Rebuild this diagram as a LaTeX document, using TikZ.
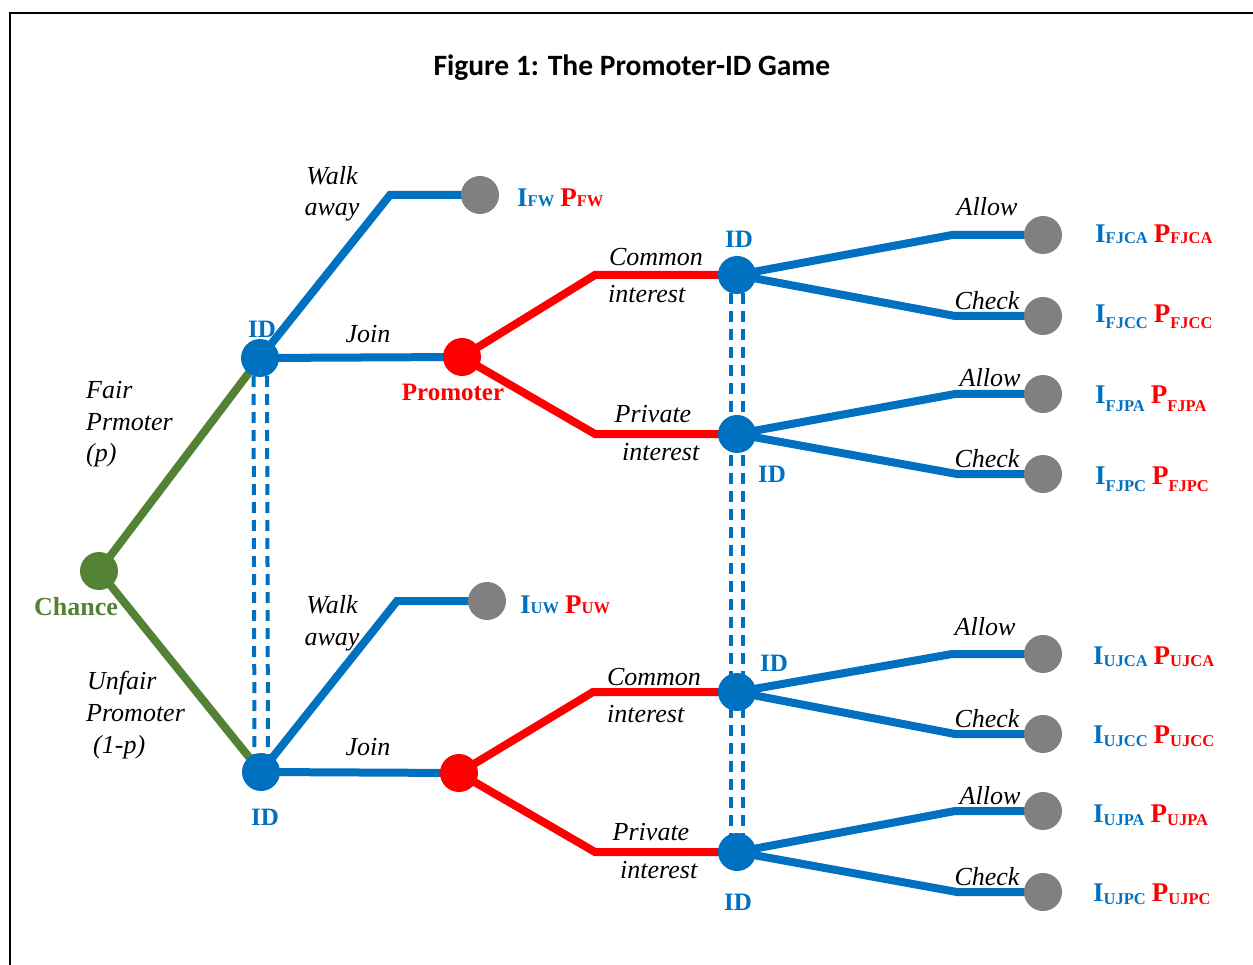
\documentclass[tikz,border=0pt]{standalone}
\usepackage{fontspec}
\setmainfont{Liberation Serif}
\newfontfamily\titlefont{Carlito}
\usetikzlibrary{backgrounds}
\definecolor{idblue}{RGB}{0,112,192}
\definecolor{pred}{RGB}{255,0,0}
\definecolor{cgreen}{RGB}{84,130,53}
\definecolor{tgray}{RGB}{128,128,128}
\newcommand{\pyf}[2]{{\bfseries\color{idblue}\fontsize{27}{27}\selectfont I\raisebox{-#2pt}{\fontsize{16.5}{16.5}\selectfont #1}}\hspace{6pt}{\bfseries\color{pred}\fontsize{27}{27}\selectfont P\raisebox{-#2pt}{\fontsize{16.5}{16.5}\selectfont #1}}}
\begin{document}
\begin{tikzpicture}[x=1pt,y=-1pt,
  dot/.style={circle,inner sep=0pt,minimum size=38pt},
  iddot/.style={dot,fill=idblue},
  prdot/.style={dot,fill=pred},
  chdot/.style={dot,fill=cgreen},
  enddot/.style={dot,fill=tgray},
  bbr/.style={line width=8pt,draw=idblue},
  rbr/.style={line width=8pt,draw=pred},
  gbr/.style={line width=8pt,draw=cgreen},
  infoset/.style={line width=4pt,draw=idblue,dash pattern=on 11pt off 7pt},
  act/.style={font=\itshape\fontsize{26}{26}\selectfont,inner sep=0pt,anchor=base},
  actw/.style={act,anchor=base west},
  idlab/.style={font=\bfseries\fontsize{25}{25}\selectfont,text=idblue,inner sep=0pt,anchor=base},
  pay/.style={inner sep=0pt,anchor=base west}
]
\useasboundingbox (0,0) rectangle (1253,965);
\draw[line width=2pt] (10,1000) -- (10,13) -- (1300,13);
\node[font=\titlefont\bfseries\fontsize{29.5}{29.5}\selectfont,inner sep=0pt,anchor=base] (title) at (632,76) {Figure 1: The Promoter-ID Game};

% decision nodes
\node[chdot] (C) at (99,571) {};
\node[iddot] (IDa) at (260,358) {};
\node[iddot] (IDb) at (261,772) {};
\node[prdot] (Pa) at (462,357) {};
\node[prdot] (Pb) at (459,773) {};
\node[iddot] (Ica) at (737,275) {};
\node[iddot] (Ipa) at (737,434) {};
\node[iddot] (Icb) at (737,692) {};
\node[iddot] (Ipb) at (737,852) {};
% terminal nodes
\node[enddot] (Tfw) at (480,195) {};
\node[enddot] (Tuw) at (487,601) {};
\node[enddot] (T1) at (1043,235) {};
\node[enddot] (T2) at (1043,316) {};
\node[enddot] (T3) at (1043,394) {};
\node[enddot] (T4) at (1043,474) {};
\node[enddot] (T5) at (1043,654) {};
\node[enddot] (T6) at (1043,734) {};
\node[enddot] (T7) at (1043,811) {};
\node[enddot] (T8) at (1043,892) {};
% bend points
\coordinate (wa) at (390,195);
\coordinate (wb) at (397,601);
\coordinate (ca) at (595,275);
\coordinate (pa) at (595,434);
\coordinate (cb) at (593,692);
\coordinate (pb) at (595,852);
\coordinate (a1) at (952,235);
\coordinate (c1) at (955,316);
\coordinate (a2) at (955,394);
\coordinate (c2) at (957,474);
\coordinate (a3) at (952,654);
\coordinate (c3) at (955,734);
\coordinate (a4) at (955,811);
\coordinate (c4) at (957,892);

\begin{scope}[on background layer]
\draw[gbr] (C.center) -- (IDa.center);
\draw[gbr] (C.center) -- (IDb.center);
\draw[infoset] ([xshift=-6.5pt]IDa.center) -- ([xshift=-6.5pt]IDb.center);
\draw[infoset] ([xshift=7pt]IDa.center) -- ([xshift=7pt]IDb.center);
\draw[infoset] ([xshift=-6pt]Ica.center) -- ([xshift=-6pt]Ipb.center);
\draw[infoset] ([xshift=6pt]Ica.center) -- ([xshift=6pt]Ipb.center);
\draw[bbr] (IDa.center) -- (wa) -- (Tfw.center);
\draw[bbr] (IDa.center) -- (Pa.center);
\draw[bbr] (IDb.center) -- (wb) -- (Tuw.center);
\draw[bbr] (IDb.center) -- (Pb.center);
\draw[rbr] (Pa.center) -- (ca) -- (Ica.center);
\draw[rbr] (Pa.center) -- (pa) -- (Ipa.center);
\draw[rbr] (Pb.center) -- (cb) -- (Icb.center);
\draw[rbr] (Pb.center) -- (pb) -- (Ipb.center);
\draw[bbr] (Ica.center) -- (a1) -- (T1.center);
\draw[bbr] (Ica.center) -- (c1) -- (T2.center);
\draw[bbr] (Ipa.center) -- (a2) -- (T3.center);
\draw[bbr] (Ipa.center) -- (c2) -- (T4.center);
\draw[bbr] (Icb.center) -- (a3) -- (T5.center);
\draw[bbr] (Icb.center) -- (c3) -- (T6.center);
\draw[bbr] (Ipb.center) -- (a4) -- (T7.center);
\draw[bbr] (Ipb.center) -- (c4) -- (T8.center);
\end{scope}

% player labels
\node[font=\bfseries\fontsize{26}{26}\selectfont,text=cgreen,inner sep=0pt,anchor=base] (lC) at (76,615) {Chance};
\node[font=\bfseries\fontsize{25}{25}\selectfont,text=pred,inner sep=0pt,anchor=base] (lPa) at (453,401) {Promoter};
\node[idlab] (lIDa) at (262,338) {ID};
\node[idlab] (lIDb) at (265,825) {ID};
\node[idlab] (lIca) at (739,248) {ID};
\node[idlab] (lIpa) at (772,482) {ID};
\node[idlab] (lIcb) at (774,671) {ID};
\node[idlab] (lIpb) at (738,910) {ID};

% action labels
\node[actw] (lf1) at (86,399) {Fair};
\node[actw] (lf2) at (86,431) {Prmoter};
\node[actw] (lf3) at (86,461) {(p)};
\node[actw] (lu1) at (87,689) {Unfair};
\node[actw] (lu2) at (86,721) {Promoter};
\node[actw] (lu3) at (93,753) {(1-p)};
\node[act] (lwa1) at (332,185) {Walk};
\node[act] (lwa2) at (332,216) {away};
\node[act] (lja) at (368,343) {Join};
\node[act] (lwb1) at (332,613) {Walk};
\node[act] (lwb2) at (332,645) {away};
\node[act] (ljb) at (368,755) {Join};
\node[act] (lca1) at (656,266) {Common};
\node[actw] (lca2) at (608,303) {interest};
\node[act] (lpa1) at (653,422) {Private};
\node[actw] (lpa2) at (622,460) {interest};
\node[act] (lcb1) at (654,685) {Common};
\node[actw] (lcb2) at (607,722) {interest};
\node[act] (lpb1) at (651,840) {Private};
\node[actw] (lpb2) at (620,878) {interest};
\node[act] (lA1) at (987,216) {Allow};
\node[act] (lC1) at (987,310) {Check};
\node[act] (lA2) at (990,387) {Allow};
\node[act] (lC2) at (987,467) {Check};
\node[act] (lA3) at (985,635) {Allow};
\node[act] (lC3) at (987,727) {Check};
\node[act] (lA4) at (990,804) {Allow};
\node[act] (lC4) at (987,885) {Check};

% payoffs
\node[pay] (pfw) at (517,207) {\pyf{FW}{0}};
\node[pay] (puw) at (520,613) {\pyf{UW}{0}};
\node[pay] (p1) at (1095,243) {\pyf{FJCA}{1}};
\node[pay] (p2) at (1095,323) {\pyf{FJCC}{6}};
\node[pay] (p3) at (1095,403) {\pyf{FJPA}{8}};
\node[pay] (p4) at (1095,484) {\pyf{FJPC}{7}};
\node[pay] (p5) at (1093,664) {\pyf{UJCA}{2}};
\node[pay] (p6) at (1093,743) {\pyf{UJCC}{3}};
\node[pay] (p7) at (1093,822) {\pyf{UJPA}{3}};
\node[pay] (p8) at (1093,901) {\pyf{UJPC}{3}};
\end{tikzpicture}
\end{document}
